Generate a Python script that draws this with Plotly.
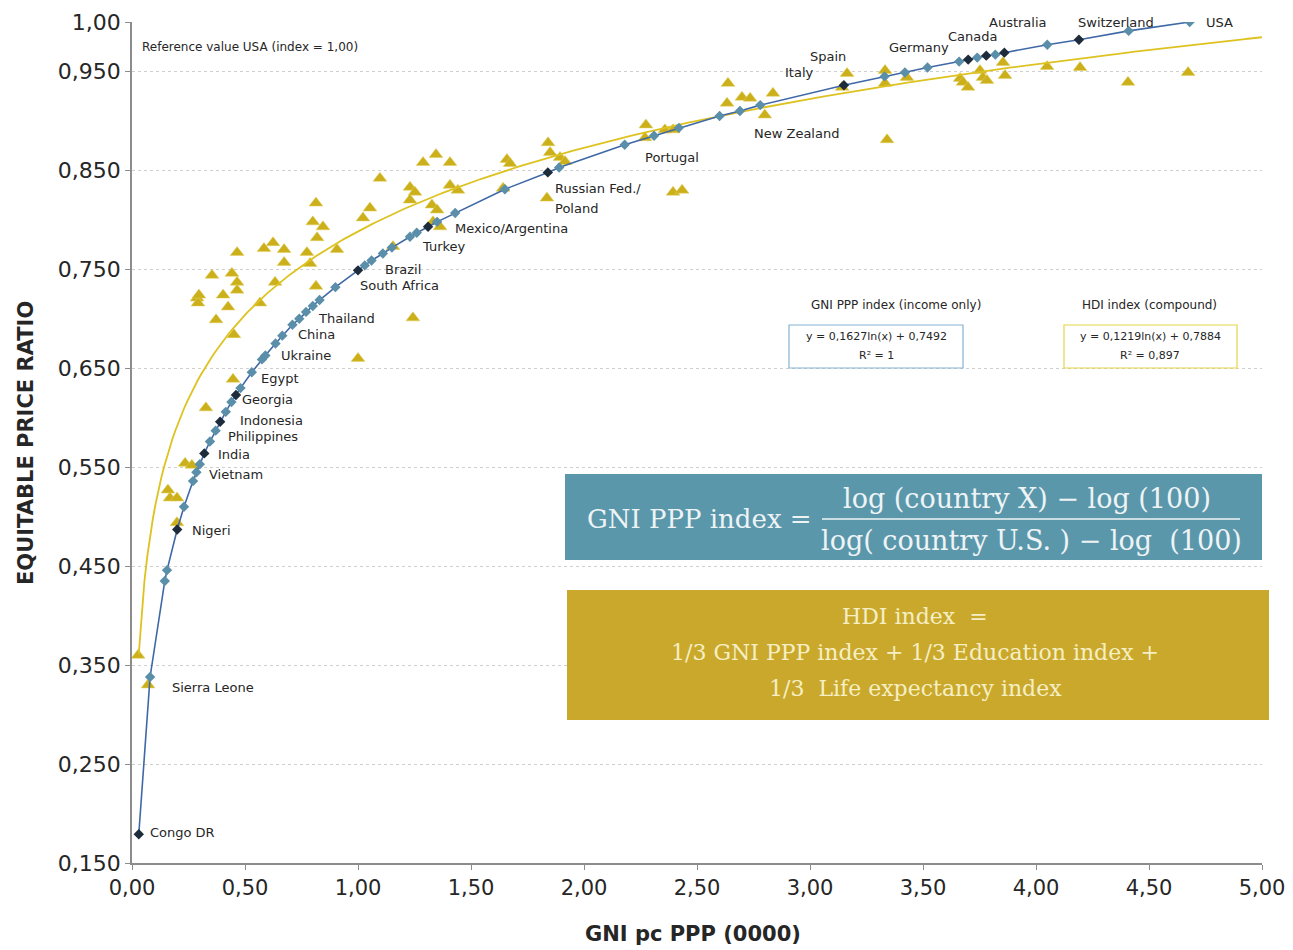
import numpy as np
import plotly.graph_objects as go

# ---------------- data ----------------
gni_x = [0.03, 0.08, 0.145, 0.155, 0.20, 0.23, 0.27, 0.285, 0.30, 0.32, 0.345, 0.37, 0.39, 0.415, 0.44,
         0.46, 0.48, 0.53, 0.575, 0.59, 0.635, 0.665, 0.71, 0.74, 0.77, 0.80, 0.83, 0.90, 1.00, 1.03,
         1.06, 1.11, 1.15, 1.23, 1.26, 1.31, 1.35, 1.43, 1.65, 1.84, 1.89, 2.18, 2.31, 2.42, 2.60,
         2.69, 2.78, 3.15, 3.33, 3.42, 3.52, 3.66, 3.70, 3.74, 3.78, 3.82, 3.86, 4.05, 4.19, 4.41, 4.68]
gni_y = [0.179, 0.338, 0.435, 0.446, 0.487, 0.510, 0.536, 0.545, 0.553, 0.564, 0.576, 0.587, 0.596, 0.606, 0.616,
         0.623, 0.630, 0.646, 0.659, 0.663, 0.675, 0.683, 0.694, 0.700, 0.707, 0.713, 0.719, 0.732, 0.749, 0.754,
         0.759, 0.766, 0.772, 0.783, 0.787, 0.793, 0.798, 0.807, 0.831, 0.848, 0.853, 0.876, 0.885, 0.893, 0.905,
         0.910, 0.916, 0.936, 0.945, 0.949, 0.954, 0.960, 0.962, 0.964, 0.966, 0.967, 0.969, 0.977, 0.982, 0.991, 1.000]
gni_highlight_idx = [0, 4, 9, 12, 15, 28, 35, 39, 47, 52, 54, 56, 58]

hdi_x = [0.027, 0.071, 0.159, 0.168, 0.199, 0.199, 0.235, 0.265, 0.327, 0.447, 0.451, 0.372, 0.288, 0.292, 0.296,
         0.403, 0.425, 0.566, 0.354, 0.442, 0.465, 0.465, 0.633, 0.814, 0.465, 0.584, 0.624, 0.673, 0.673, 0.774,
         0.788, 0.907, 0.819, 0.814, 0.800, 0.845, 1.000, 1.022, 1.053, 1.097, 1.155, 1.230, 1.252, 1.230, 1.243,
         1.288, 1.345, 1.407, 1.327, 1.350, 1.332, 1.363, 1.407, 1.442, 1.642, 1.659, 1.673, 1.836, 1.841, 1.850,
         1.894, 1.916, 2.270, 2.274, 2.358, 2.394, 2.394, 2.434, 2.633, 2.637, 2.699, 2.735, 2.800, 2.836, 3.142,
         3.164, 3.332, 3.332, 3.341, 3.429, 3.664, 3.677, 3.699, 3.752, 3.765, 3.783, 3.854, 3.863, 4.049, 4.195,
         4.407, 4.673]
hdi_y = [0.360, 0.330, 0.527, 0.519, 0.519, 0.494, 0.554, 0.552, 0.610, 0.639, 0.684, 0.699, 0.721, 0.716, 0.724,
         0.724, 0.712, 0.716, 0.744, 0.746, 0.737, 0.729, 0.737, 0.733, 0.767, 0.771, 0.777, 0.770, 0.757, 0.767,
         0.756, 0.770, 0.782, 0.817, 0.798, 0.793, 0.660, 0.802, 0.812, 0.842, 0.773, 0.833, 0.828, 0.820, 0.701,
         0.858, 0.866, 0.858, 0.815, 0.810, 0.798, 0.793, 0.835, 0.830, 0.832, 0.861, 0.857, 0.822, 0.878, 0.868,
         0.863, 0.859, 0.883, 0.896, 0.891, 0.891, 0.828, 0.830, 0.918, 0.938, 0.924, 0.923, 0.906, 0.928, 0.934,
         0.948, 0.951, 0.938, 0.881, 0.944, 0.943, 0.939, 0.934, 0.951, 0.944, 0.941, 0.959, 0.946, 0.955, 0.954,
         0.939, 0.949]

# logarithmic trendline for HDI: y = a ln(x) + b
hdi_trend_a = 0.1219
hdi_trend_b = 0.7884
trend_x_range = [0.03, 5.0]

y_tick_vals = [0.15, 0.25, 0.35, 0.45, 0.55, 0.65, 0.75, 0.85, 0.95, 1.00]
y_tick_text = ["0,150", "0,250", "0,350", "0,450", "0,550", "0,650", "0,750", "0,850", "0,950", "1,00"]
x_tick_vals = [0, 0.5, 1, 1.5, 2, 2.5, 3, 3.5, 4, 4.5, 5]
x_tick_text = ["0,00", "0,50", "1,00", "1,50", "2,00", "2,50", "3,00", "3,50", "4,00", "4,50", "5,00"]

country_labels = ["Congo DR", "Sierra Leone", "Nigeri", "Vietnam", "India", "Philippines", "Indonesia",
                  "Georgia", "Egypt", "Ukraine", "China", "Thailand", "South Africa", "Brazil", "Turkey",
                  "Mexico/Argentina", "Russian Fed./", "Poland", "Portugal", "New Zealand", "Italy", "Spain",
                  "Germany", "Canada", "Australia", "Switzerland", "USA"]

# ---------------- colours ----------------
BLUE_MK = "#5b8fa9"
DARK_MK = "#1d2b3a"
BLUE_LN = "#3f68a6"
YEL_MK = "#cbb01c"
YEL_LN = "#ddc220"

fig = go.Figure()

fig.add_trace(go.Scatter(x=hdi_x, y=hdi_y, mode="markers",
                         marker=dict(symbol="triangle-up", size=12, color=YEL_MK,
                                     line=dict(width=0.5, color="#e3cf5a")),
                         name="HDI", showlegend=False))

tx = np.linspace(trend_x_range[0], trend_x_range[1], 400)
ty = hdi_trend_a * np.log(tx) + hdi_trend_b
fig.add_trace(go.Scatter(x=tx, y=ty, mode="lines", line=dict(color=YEL_LN, width=1.8),
                         showlegend=False, hoverinfo="skip"))

mk_colors = [DARK_MK if i in gni_highlight_idx else BLUE_MK for i in range(len(gni_x))]
fig.add_trace(go.Scatter(x=gni_x, y=gni_y, mode="lines+markers",
                         line=dict(color=BLUE_LN, width=1.6),
                         marker=dict(symbol="diamond", size=8, color=mk_colors),
                         name="GNI", showlegend=False))

W, H = 1293, 950
L, R, T, B = 132, 31, 22, 87
pw, ph = W - L - R, H - T - B

def px(xp):
    return (xp - L) / pw

def py(yp):
    return (H - B - yp) / ph

annotations = []

label_pos = [(0.071, 0.181), (0.168, 0.327), (0.257, 0.486), (0.332, 0.543), (0.372, 0.563),
             (0.416, 0.581), (0.469, 0.597), (0.478, 0.618), (0.562, 0.640), (0.650, 0.663),
             (0.726, 0.684), (0.814, 0.700), (1.000, 0.734), (1.111, 0.750), (1.274, 0.773),
             (1.420, 0.791), (1.863, 0.832), (1.863, 0.812), (2.261, 0.863), (2.743, 0.887),
             (2.881, 0.949), (2.991, 0.965), (3.341, 0.974), (3.602, 0.985), (3.783, 1.000),
             (4.177, 1.000), (4.743, 1.000)]
for name, (lx, ly) in zip(country_labels, label_pos):
    annotations.append(dict(x=lx, y=ly, xref="x", yref="y", text=name, showarrow=False,
                            xanchor="left", yanchor="middle",
                            font=dict(family="DejaVu Sans", size=13, color="#262626")))

def ptext(xp, yp, text, size, color="#262626", family="DejaVu Sans", anchor="center"):
    return dict(x=px(xp), y=py(yp), xref="paper", yref="paper", text=text, showarrow=False,
                xanchor=anchor, yanchor="middle", font=dict(family=family, size=size, color=color))

annotations.append(ptext(140, 47, "Reference value USA (index = 1,00)", 12, anchor="left"))

annotations += [
    ptext(896, 305, "GNI PPP index (income only)", 12),
    ptext(876, 336, "y = 0,1627ln(x) + 0,7492", 11),
    ptext(876, 355, "R² = 1", 11),
    ptext(1149, 305, "HDI index (compound)", 12),
    ptext(1150, 336, "y = 0,1219ln(x) + 0,7884", 11),
    ptext(1150, 355, "R² = 0,897", 11),
]

SERIF = "DejaVu Serif"
annotations += [
    ptext(699, 519, "GNI PPP index =", 26, "#eef4f6", SERIF),
    ptext(1027, 498, "log (country X) − log (100)", 27, "#eef4f6", SERIF),
    ptext(1031, 540, "log( country U.S. ) − log  (100)", 27, "#eef4f6", SERIF),
    ptext(915, 616, "HDI index  =", 22, "#f6efc4", SERIF),
    ptext(915, 652, "1/3 GNI PPP index + 1/3 Education index +", 22, "#f6efc4", SERIF),
    ptext(915, 688, "1/3  Life expectancy index", 22, "#f6efc4", SERIF),
]

yt = ptext(26, 443, "<b>EQUITABLE PRICE RATIO</b>", 21)
yt["textangle"] = -90
annotations += [yt, ptext(693, 934, "<b>GNI pc PPP (0000)</b>", 21)]

shapes = [
    dict(type="rect", xref="paper", yref="paper", x0=px(565), x1=px(1262), y0=py(560), y1=py(474),
         fillcolor="#5b97ab", line=dict(width=0), layer="above"),
    dict(type="line", xref="paper", yref="paper", x0=px(822), x1=px(1240), y0=py(519), y1=py(519),
         line=dict(color="#eef4f6", width=1.5), layer="above"),
    dict(type="rect", xref="paper", yref="paper", x0=px(567), x1=px(1269), y0=py(720), y1=py(590),
         fillcolor="#c9a82c", line=dict(width=0), layer="above"),
    dict(type="rect", xref="paper", yref="paper", x0=px(789), x1=px(963), y0=py(368), y1=py(325),
         fillcolor="rgba(0,0,0,0)", line=dict(color="#86b3d3", width=1.2)),
    dict(type="rect", xref="paper", yref="paper", x0=px(1064), x1=px(1237), y0=py(368), y1=py(325),
         fillcolor="rgba(0,0,0,0)", line=dict(color="#e6d548", width=1.2)),
]

fig.update_layout(
    width=W, height=H,
    margin=dict(l=L, r=R, t=T, b=B, pad=0, autoexpand=False),
    plot_bgcolor="white", paper_bgcolor="white",
    showlegend=False,
    annotations=annotations,
    shapes=shapes,
    xaxis=dict(range=[0, 5], tickvals=x_tick_vals, ticktext=x_tick_text, automargin=False,
               showgrid=False, zeroline=False, showline=True, linecolor="#8c8c8c", linewidth=1.5,
               ticks="outside", ticklen=5, tickcolor="#8c8c8c",
               tickfont=dict(family="DejaVu Sans", size=21, color="#262626")),
    yaxis=dict(range=[0.15, 1.0], tickvals=y_tick_vals, ticktext=y_tick_text, automargin=False,
               showgrid=True, gridcolor="#cfcfcf", griddash="dot", gridwidth=1,
               zeroline=False, showline=True, linecolor="#8c8c8c", linewidth=1.5,
               ticks="outside", ticklen=5, tickcolor="#8c8c8c",
               tickfont=dict(family="DejaVu Sans", size=22, color="#262626")),
)

fig.write_html("out.html", config={"displayModeBar": False},
               post_script="document.body.style.margin='0';document.body.style.padding='0';")
